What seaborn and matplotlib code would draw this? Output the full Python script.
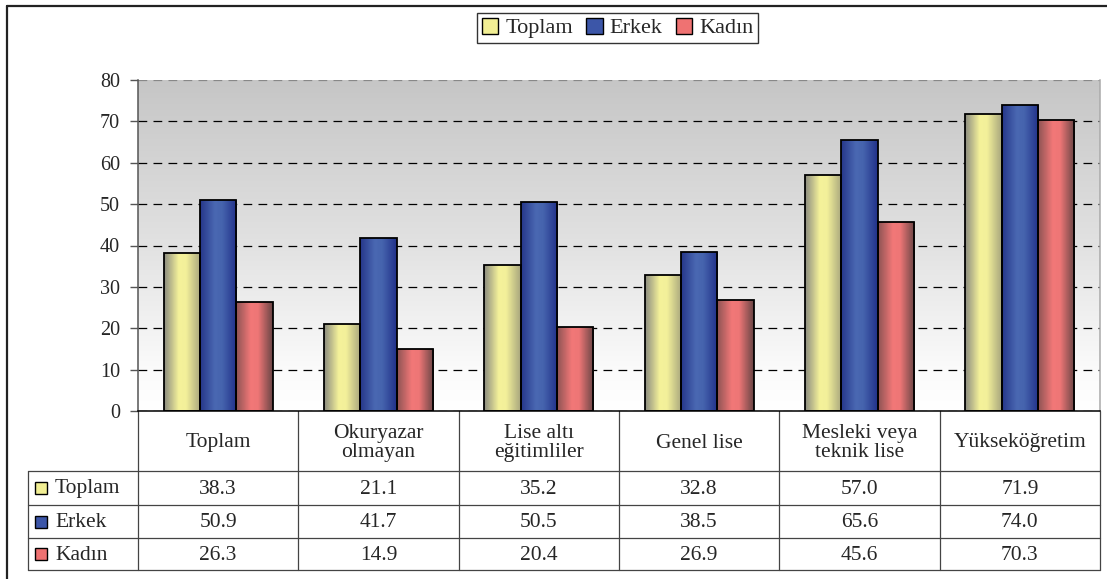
import numpy as np
import pandas as pd
import seaborn as sns
import matplotlib
matplotlib.use("Agg")
import matplotlib.pyplot as plt
from matplotlib.colors import LinearSegmentedColormap
from matplotlib.patches import Patch, Rectangle
from matplotlib.lines import Line2D

# data
categories = ["Toplam", "Okuryazar\nolmayan", "Lise altı\neğitimliler",
              "Genel lise", "Mesleki veya\nteknik lise", "Yükseköğretim"]
series = ["Toplam", "Erkek", "Kadın"]
toplam = [38.3, 21.1, 35.2, 32.8, 57.0, 71.9]
erkek = [50.9, 41.7, 50.5, 38.5, 65.6, 74.0]
kadin = [26.3, 14.9, 20.4, 26.9, 45.6, 70.3]
yticks = [0, 10, 20, 30, 40, 50, 60, 70, 80]

flat = {"Toplam": "#f2ef94", "Erkek": "#3c56a8", "Kadın": "#ef7272"}
grads = {
    "Toplam": ["#8c8c80", "#f5f29a", "#f3f09a", "#a8a67e"],
    "Erkek": ["#26378a", "#4a68b2", "#4664ae", "#22318a"],
    "Kadın": ["#8e5454", "#f27878", "#ee7676", "#6a4646"],
}

sns.set_style("white")
plt.rcParams["font.family"] = ["Liberation Serif", "DejaVu Serif"]

W, H = 1107, 579
fig = plt.figure(figsize=(W / 100, H / 100), dpi=100)
ax = fig.add_axes([138 / W, (H - 411) / H, (1100 - 138) / W, (411 - 80) / H])

df = pd.DataFrame({
    "Kategori": categories * 3,
    "Seri": [s for s in series for _ in categories],
    "Deger": toplam + erkek + kadin,
})
sns.barplot(data=df, x="Kategori", y="Deger", hue="Seri", hue_order=series,
            palette=flat, width=0.68, ax=ax, legend=False, zorder=3)

# gradient fill on each bar
for name, cont in zip(series, ax.containers):
    cmap = LinearSegmentedColormap.from_list(name, list(zip([0, 0.4, 0.6, 1], grads[name])))
    arr = cmap(np.linspace(0, 1, 64))[None, :, :]
    for bar in cont:
        x0, w, h = bar.get_x(), bar.get_width(), bar.get_height()
        im = ax.imshow(arr, extent=(x0, x0 + w, 0, h), aspect="auto",
                       interpolation="bilinear", zorder=2.5)
        im.set_clip_path(bar)
        bar.set_facecolor("none")
        bar.set_edgecolor("black")
        bar.set_linewidth(1.3)

# background gradient of the plot area
bg = LinearSegmentedColormap.from_list("bg", [(0, "#ffffff"), (0.12, "#fbfbfb"),
                                              (0.5, "#e2e2e2"), (1, "#c6c6c6")])
ax.imshow(bg(np.linspace(0, 1, 256))[::-1, None, :], extent=(0, 1, 0, 1),
          transform=ax.transAxes, aspect="auto", zorder=0)

ax.set_xlim(-0.5, 5.5)
ax.set_ylim(0, 80)
ax.set_yticks(yticks)
ax.set_xticks([])
ax.set_xlabel("")
ax.set_ylabel("")
ax.tick_params(axis="y", left=True, length=6, width=1, color="#555555",
               pad=7, labelsize=14.5)
ax.yaxis.grid(True, linestyle=(0, (7, 5)), color="black", linewidth=0.9, zorder=1)
ax.set_axisbelow(True)
ax.yaxis.get_gridlines()[-1].set_color("#888888")
ax.spines["top"].set_visible(False)
ax.spines["left"].set_color("#555555")
ax.spines["right"].set_color("#aaaaaa")
ax.spines["bottom"].set_color("black")
for s in ax.spines.values():
    s.set_linewidth(1.1)

# table under the chart, in pixel coords
ov = fig.add_axes([0, 0, 1, 1], zorder=-1)
ov.set_xlim(0, W)
ov.set_ylim(H, 0)
ov.axis("off")

def px(xd):
    return ax.transData.transform((xd, 0))[0]

bounds = [px(i - 0.5) for i in range(len(categories) + 1)]
y_base, y_head, y_end = 411, 471, 570
row_y = [471, 505, 538, 570]
lc = "#444444"
for xb in bounds:
    ov.add_line(Line2D([xb, xb], [y_base, y_end], color=lc, lw=0.9))
ov.add_line(Line2D([28, 28], [y_head, y_end], color=lc, lw=0.9))
for yy in row_y:
    ov.add_line(Line2D([28, bounds[-1]], [yy, yy], color=lc, lw=0.9))

fs = 15.5
for i, cat in enumerate(categories):
    ov.text((bounds[i] + bounds[i + 1]) / 2, (y_base + y_head) / 2 + 2, cat,
            ha="center", va="center", fontsize=fs, linespacing=1.05)

for r, (name, vals) in enumerate(zip(series, [toplam, erkek, kadin])):
    yc = (row_y[r] + row_y[r + 1]) / 2
    ov.add_patch(Rectangle((35, yc - 6), 12, 12, facecolor=flat[name],
                           edgecolor="black", lw=1))
    ov.text(55, yc + 1, name, ha="left", va="center", fontsize=fs)
    for i, v in enumerate(vals):
        ov.text((bounds[i] + bounds[i + 1]) / 2, yc + 1, f"{v:.1f}",
                ha="center", va="center", fontsize=fs)

# outer frame
ov.add_line(Line2D([7, 7], [6, H], color="#222222", lw=1.6))
ov.add_line(Line2D([7, W], [6, 6], color="#222222", lw=1.6))

# legend
handles = [Patch(facecolor=flat[s], edgecolor="black", label=s) for s in series]
leg = fig.legend(handles=handles, ncol=3, loc="center",
                 bbox_to_anchor=(617.5 / W, 1 - 28 / H), fontsize=16,
                 frameon=True, fancybox=False, edgecolor="black",
                 handlelength=0.75, handleheight=0.75, handletextpad=0.3,
                 columnspacing=0.6, borderpad=0.2, borderaxespad=0)
leg.get_frame().set_linewidth(1.0)

fig.savefig("out.png", dpi=100)
